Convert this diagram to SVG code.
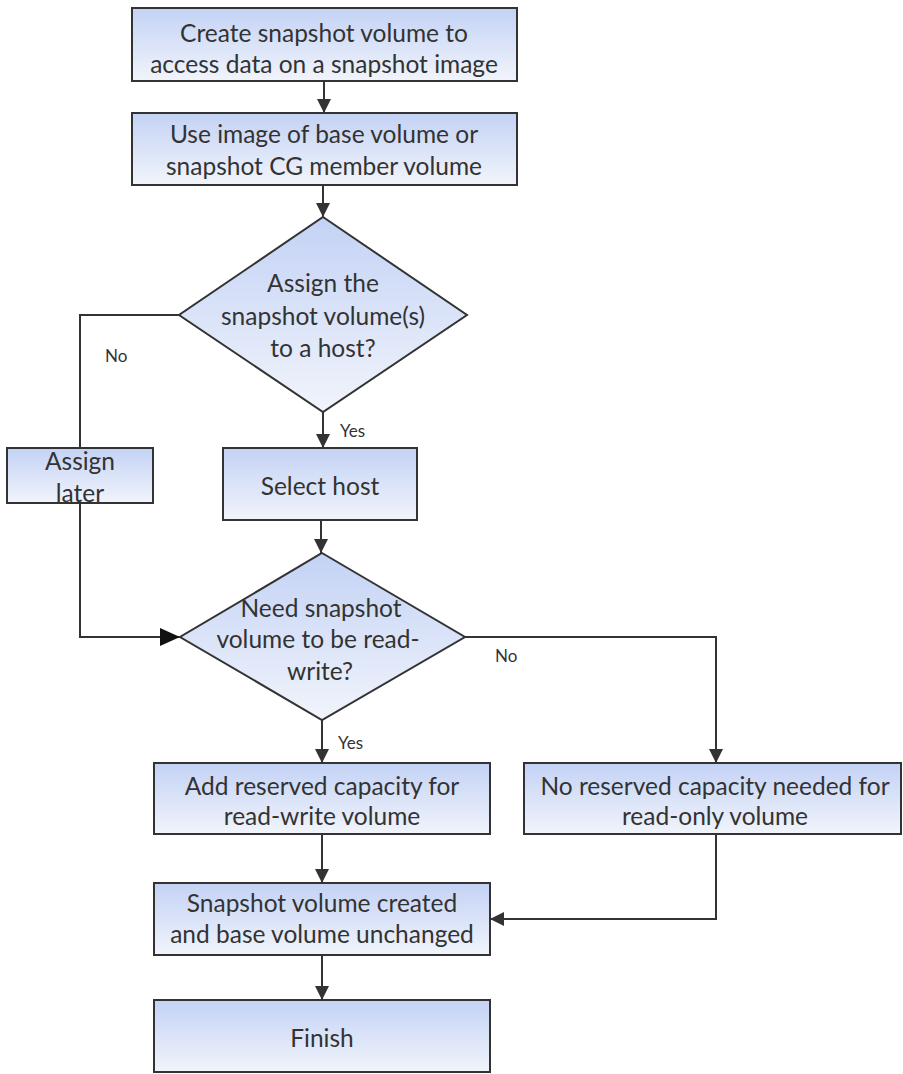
<svg xmlns="http://www.w3.org/2000/svg" width="903" height="1074" viewBox="0 0 903 1074">
<defs>
<linearGradient id="g" x1="0" y1="0" x2="0" y2="1">
<stop offset="0" stop-color="#c3d2f5"/>
<stop offset="1" stop-color="#f1f4fb"/>
</linearGradient>
<marker id="a" markerWidth="14" markerHeight="14" refX="14" refY="7" orient="auto" markerUnits="userSpaceOnUse">
<path d="M0,0 L14,7 L0,14 Z" fill="#333"/>
</marker>
<marker id="b" markerWidth="20" markerHeight="18" refX="20" refY="9" orient="auto" markerUnits="userSpaceOnUse">
<path d="M0,0 L20,9 L0,18 Z" fill="#111"/>
</marker>
</defs>
<style>
.n{fill:url(#g);stroke:#333;stroke-width:2}
.t{font-family:Lato,"Liberation Sans",sans-serif;font-size:24.5px;fill:#333;text-anchor:middle;dominant-baseline:central}
.l{font-family:Lato,"Liberation Sans",sans-serif;font-size:17px;fill:#333;dominant-baseline:central}
.c{fill:none;stroke:#333;stroke-width:2}
</style>
<rect width="903" height="1074" fill="#fff"/>
<g id="connectors">
<path class="c" d="M324,81 V113" marker-end="url(#a)"/>
<path class="c" d="M323,185 V217" marker-end="url(#a)"/>
<path class="c" d="M179,315 H80 V448"/>
<path class="c" d="M80,503 V637 H180" marker-end="url(#b)"/>
<path class="c" d="M323,412 V448" marker-end="url(#a)"/>
<path class="c" d="M321,520 V553" marker-end="url(#a)"/>
<path class="c" d="M465,637 H716 V763" marker-end="url(#a)"/>
<path class="c" d="M322,720 V763" marker-end="url(#a)"/>
<path class="c" d="M322,834 V883" marker-end="url(#a)"/>
<path class="c" d="M716,834 V919 H490" marker-end="url(#a)"/>
<path class="c" d="M322,955 V1000" marker-end="url(#a)"/>
<text class="l" x="105" y="355">No</text>
<text class="l" x="340" y="430">Yes</text>
<text class="l" x="495" y="655">No</text>
<text class="l" x="338" y="742">Yes</text>
</g>
<g id="n1"><rect class="n" x="132" y="8" width="385" height="73"/>
<text class="t" x="324" y="32">Create snapshot volume to</text><text class="t" x="324" y="63">access data on a snapshot image</text></g>
<g id="n2"><rect class="n" x="132" y="113" width="385" height="72"/>
<text class="t" x="324" y="133">Use image of base volume or</text><text class="t" x="324" y="165">snapshot CG member volume</text></g>
<g id="d1"><path class="n" d="M323,217 L467,315 L323,412 L179,315 Z"/>
<text class="t" x="323" y="282">Assign the</text><text class="t" x="323" y="315">snapshot volume(s)</text><text class="t" x="323" y="347">to a host?</text></g>
<g id="n3"><rect class="n" x="7" y="448" width="146" height="55"/>
<text class="t" x="80" y="460">Assign</text><text class="t" x="80" y="492">later</text></g>
<g id="n4"><rect class="n" x="223" y="448" width="194" height="72"/>
<text class="t" x="320" y="485">Select host</text></g>
<g id="d2"><path class="n" d="M322,553 L465,637 L322,720 L180,637 Z"/>
<text class="t" x="321" y="607">Need snapshot</text><text class="t" x="318" y="638">volume to be read-</text><text class="t" x="320" y="670">write?</text></g>
<g id="n5"><rect class="n" x="154" y="763" width="336" height="71"/>
<text class="t" x="322" y="785">Add reserved capacity for</text><text class="t" x="322" y="815">read-write volume</text></g>
<g id="n6"><rect class="n" x="524" y="763" width="377" height="71"/>
<text class="t" x="715" y="785">No reserved capacity needed for</text><text class="t" x="715" y="815">read-only volume</text></g>
<g id="n7"><rect class="n" x="154" y="883" width="336" height="72"/>
<text class="t" x="322" y="902">Snapshot volume created</text><text class="t" x="322" y="933">and base volume unchanged</text></g>
<g id="n8"><rect class="n" x="154" y="1000" width="336" height="72"/>
<text class="t" x="322" y="1037">Finish</text></g>
</svg>
